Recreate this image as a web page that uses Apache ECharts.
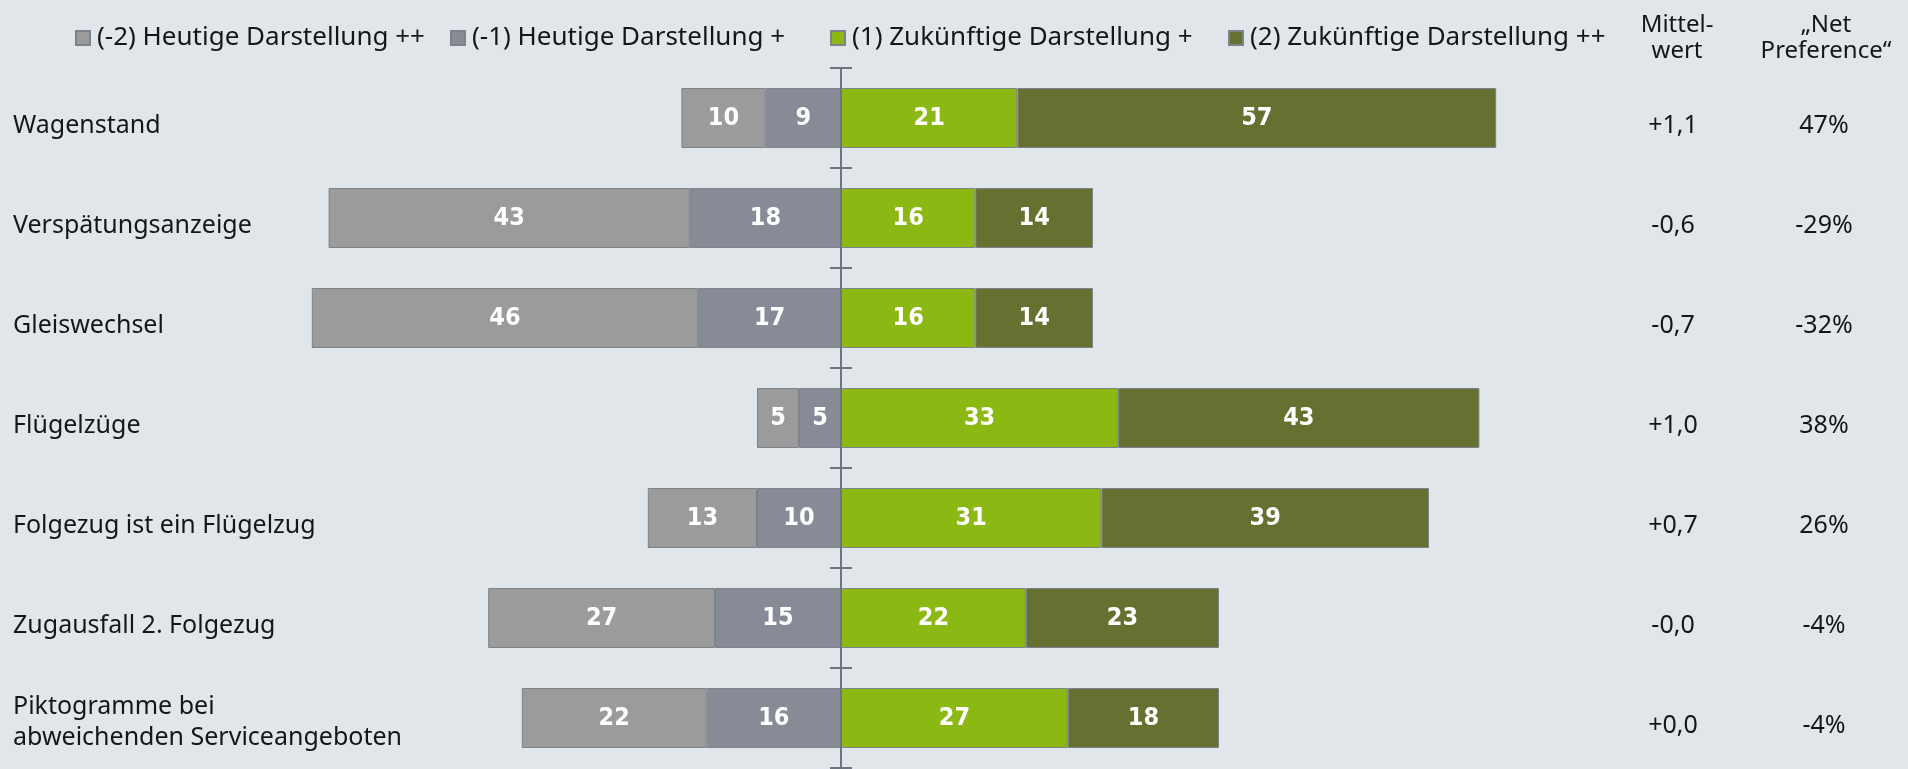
<!DOCTYPE html>
<html>
<head>
<meta charset="utf-8">
<script src="https://cdn.jsdelivr.net/npm/echarts@6/dist/echarts.min.js"></script>
<style>
  html, body { margin: 0; padding: 0; background: #e1e6ea; }
  #chart { width: 1908px; height: 769px; }
</style>
</head>
<body>
<div id="chart"></div>
<script>
// Kategorien und Werte (Anteile in %)
var categories = ['Wagenstand', 'Verspätungsanzeige', 'Gleiswechsel', 'Flügelzüge',
    'Folgezug ist ein Flügelzug', 'Zugausfall 2. Folgezug', 'Piktogramme bei\nabweichenden Serviceangeboten'];
var seriesNames = ['(-2) Heutige Darstellung ++', '(-1) Heutige Darstellung +',
    '(1) Zukünftige Darstellung +', '(2) Zukünftige Darstellung ++'];
var heutigePlusPlus = [10, 43, 46, 5, 13, 27, 22];
var heutigePlus = [9, 18, 17, 5, 10, 15, 16];
var zukunftPlus = [21, 16, 16, 33, 31, 22, 27];
var zukunftPlusPlus = [57, 14, 14, 43, 39, 23, 18];
var mittelwert = ['+1,1', '-0,6', '-0,7', '+1,0', '+0,7', '-0,0', '+0,0'];
var netPreference = ['47%', '-29%', '-32%', '38%', '26%', '-4%', '-4%'];

var colors = ['#9b9b9b', '#878b96', '#8cb813', '#667030'];
var textColor = '#161616';
var axisColor = '#6e7380';
var font = '"Noto Sans", "Open Sans", sans-serif';
var boldFont = '"Liberation Sans Narrow", "DejaVu Sans Condensed", "Noto Sans", sans-serif';

function neg(arr) {
    return arr.map(function (v) { return -v; });
}

var myChart = echarts.init(document.getElementById('chart'));

var barLabel = {
    show: true,
    position: 'inside',
    color: '#ffffff',
    fontFamily: boldFont,
    fontWeight: 'bold',
    fontSize: 25,
    formatter: function (p) { return Math.abs(p.value); }
};

function barSeries(name, data, color) {
    return {
        name: name,
        type: 'bar',
        stack: 'total',
        barWidth: '60%',
        data: data,
        itemStyle: { color: color, borderColor: '#7d828b', borderWidth: 1 },
        label: barLabel,
        emphasis: { disabled: true }
    };
}

// legende: jeder eintrag einzeln platziert
var legendLeft = [75, 450, 830, 1228];
var legends = seriesNames.map(function (name, i) {
    return {
        data: [name],
        left: legendLeft[i],
        top: 25,
        padding: 0,
        icon: 'rect',
        itemWidth: 14,
        itemHeight: 14,
        selectedMode: false,
        textStyle: { fontSize: 26, color: textColor, fontFamily: font, padding: [0, 0, 0, 2] }
    };
});

// text etwas unterhalb der balkenmitte, wie im original
function sideRich() {
    return {
        s: { fontSize: 1, lineHeight: 16 },
        h: { fontSize: 1, lineHeight: 8 },
        t: { fontSize: 25, lineHeight: 31, color: textColor, fontFamily: font }
    };
}

function sideFormatter(value) {
    var lines = value.split('\n');
    var spacer = lines.length > 1 ? '{h| }' : '{s| }';
    return spacer + '\n' + lines.map(function (l) { return '{t|' + l + '}'; }).join('\n');
}

var option = {
    backgroundColor: '#e1e6ea',
    animation: false,
    legend: legends,
    grid: { left: 253, right: 311, top: 68, bottom: 1 },
    xAxis: {
        type: 'value',
        min: -70,
        max: 90,
        show: false
    },
    yAxis: [{
        // nulllinie mit ticks nach links
        type: 'category',
        data: categories,
        inverse: true,
        position: 'left',
        z: 5,
        axisLine: { onZero: true, onZeroAxisIndex: 0, lineStyle: { color: axisColor, width: 2 } },
        axisTick: { show: true, interval: 0, length: 11, lineStyle: { color: axisColor, width: 2 } },
        axisLabel: { show: false }
    }, {
        // ticks nach rechts
        type: 'category',
        data: categories,
        inverse: true,
        position: 'right',
        z: 5,
        axisLine: { onZero: true, onZeroAxisIndex: 0, lineStyle: { color: axisColor, width: 2 } },
        axisTick: { show: true, interval: 0, length: 11, lineStyle: { color: axisColor, width: 2 } },
        axisLabel: { show: false }
    }, {
        // kategorienamen links
        type: 'category',
        data: categories,
        inverse: true,
        position: 'left',
        axisLine: { show: false, onZero: false },
        axisTick: { show: false },
        axisLabel: { align: 'left', margin: 240, interval: 0, formatter: sideFormatter, rich: sideRich() }
    }, {
        // Mittelwert
        type: 'category',
        data: mittelwert,
        inverse: true,
        position: 'right',
        axisLine: { show: false, onZero: false },
        axisTick: { show: false },
        axisLabel: { align: 'center', margin: 76, interval: 0, formatter: sideFormatter, rich: sideRich() }
    }, {
        // Net Preference
        type: 'category',
        data: netPreference,
        inverse: true,
        position: 'right',
        axisLine: { show: false, onZero: false },
        axisTick: { show: false },
        axisLabel: { align: 'center', margin: 227, interval: 0, formatter: sideFormatter, rich: sideRich() }
    }],
    graphic: [{
        type: 'text',
        x: 1677,
        y: 12,
        style: { text: 'Mittel-\nwert', align: 'center', verticalAlign: 'top', fontSize: 24, lineHeight: 26, fontFamily: font, fill: textColor }
    }, {
        type: 'text',
        x: 1826,
        y: 12,
        style: { text: '\u201eNet\nPreference\u201c', align: 'center', verticalAlign: 'top', fontSize: 24, lineHeight: 26, fontFamily: font, fill: textColor }
    }],
    series: [
        barSeries(seriesNames[1], neg(heutigePlus), colors[1]),
        barSeries(seriesNames[0], neg(heutigePlusPlus), colors[0]),
        barSeries(seriesNames[2], zukunftPlus, colors[2]),
        barSeries(seriesNames[3], zukunftPlusPlus, colors[3])
    ]
};

if (option && typeof option === 'object') {
    myChart.setOption(option, true);
}
</script>
</body>
</html>
